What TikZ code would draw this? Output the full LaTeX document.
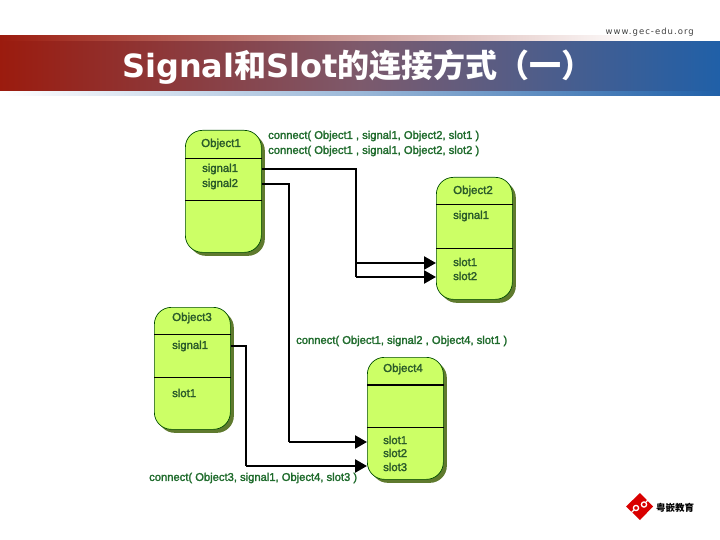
\documentclass[tikz,border=0pt]{standalone}
\usepackage{fontspec}
\setmainfont{Liberation Sans}
\newfontfamily\cjk{Noto Sans CJK SC}
\newfontfamily\titlefont{DejaVu Sans}
\newfontfamily\labelfont[FakeBold=2]{Liberation Sans}
\usetikzlibrary{arrows.meta,calc}
\definecolor{brandred}{HTML}{9B1B0E}
\definecolor{brandblue}{HTML}{2060A8}
\definecolor{bandmid}{HTML}{7D5A6C}
\definecolor{boxgreen}{HTML}{CCFF66}
\definecolor{shadowgreen}{HTML}{5F7A2E}
\definecolor{labelgreen}{HTML}{1F6B2C}
\definecolor{textgreen}{HTML}{2A5A2A}
\tikzset{
  objbox/.style={draw=black!70!green,line width=0.7pt,fill=boxgreen,rounded corners=17pt,
    minimum width=76pt,minimum height=122pt,inner sep=0pt,anchor=north west,
    preaction={fill=shadowgreen,draw=none,transform canvas={shift={(3.5pt,-3.5pt)}}}},
  objname/.style={font=\labelfont\fontsize{11.5}{12}\selectfont,text=textgreen,anchor=center,inner sep=0pt},
  member/.style={font=\labelfont\fontsize{11.3}{12}\selectfont,text=textgreen,anchor=west,inner sep=0pt},
  conn/.style={font=\labelfont\fontsize{11.2}{12}\selectfont,text=labelgreen,anchor=west,inner sep=0pt},
  divider/.style={line width=0.7pt,black},
  wire/.style={line width=2.4pt,black,-{Triangle[length=12pt,width=13pt]}},
  wireline/.style={line width=2.4pt,black},
}
\begin{document}
\begin{tikzpicture}[x=1pt,y=-1pt]
\useasboundingbox (0,0) rectangle (720,540);
% banner
\shade[left color=brandred,right color=white,middle color=brandred!45!white!90!gray] (0,36) rectangle (640,43);
\shade[left color=white,right color=brandblue,middle color=brandblue!45!white] (0,90) rectangle (720,96);
\shade[left color=brandred,right color=brandblue,middle color=bandmid] (0,42) rectangle (720,91);
\node[inner sep=0pt,text=white] (title) at (358,67) {\fontsize{32}{36}\selectfont\bfseries\titlefont Signal{\cjk 和}Slot{\cjk 的连接方式（一）}};
\node[inner sep=0pt,anchor=east,text=black!75] (site) at (694,32) {\fontsize{8.5}{10}\selectfont\titlefont\addfontfeature{LetterSpace=12}www.gec-edu.org};
% objects
\node[objbox] (o1) at (185,130) {};
\node[objbox] (o2) at (436,177) {};
\node[objbox] (o3) at (154,307) {};
\node[objbox] (o4) at (367,357) {};
% dividers
\draw[divider] (o1.west |- 0,158) -- (o1.east |- 0,158);
\draw[divider] (o1.west |- 0,200) -- (o1.east |- 0,200);
\draw[divider] (o2.west |- 0,204) -- (o2.east |- 0,204);
\draw[divider] (o2.west |- 0,248) -- (o2.east |- 0,248);
\draw[divider] (o3.west |- 0,334) -- (o3.east |- 0,334);
\draw[divider] (o3.west |- 0,377) -- (o3.east |- 0,377);
\draw[divider,line width=1.3pt] (o4.west |- 0,385) -- (o4.east |- 0,385);
\draw[divider] (o4.west |- 0,427) -- (o4.east |- 0,427);
% names
\node[objname] (n1) at (221,144) {Object1};
\node[objname] (n2) at (473,191) {Object2};
\node[objname] (n3) at (192,318) {Object3};
\node[objname] (n4) at (403,369) {Object4};
% members
\node[member] (o1sig1) at (202,169) {signal1};
\node[member] (o1sig2) at (202,184) {signal2};
\node[member] (o2sig1) at (453,216) {signal1};
\node[member] (o2slot1) at (453,262) {slot1};
\node[member] (o2slot2) at (453,276) {slot2};
\node[member] (o3sig1) at (172,346) {signal1};
\node[member] (o3slot1) at (172,393) {slot1};
\node[member] (o4slot1) at (383,440) {slot1};
\node[member] (o4slot2) at (383,453) {slot2};
\node[member] (o4slot3) at (383,467) {slot3};
% connect labels
\node[conn] (c1) at (268,136) {connect( Object1 , signal1, Object2, slot1 )};
\node[conn] (c2) at (268,151) {connect( Object1 , signal1, Object2, slot2 )};
\node[conn] (c3) at (296,341) {connect( Object1, signal2 , Object4, slot1 )};
\node[conn] (c4) at (149,478) {connect( Object3, signal1, Object4, slot3 )};
% connectors
\coordinate (j1) at (356,263);
\draw[wireline] (o1.east |- 0,169) -| (j1);
\draw[wire] (j1) -- (o2.west |- j1);
\coordinate (j2) at (356,277);
\draw[wireline] (j1) -- (j2);
\draw[wire] (j2) -- (o2.west |- j2);
\coordinate (j3) at (289,442);
\draw[wireline] (o1.east |- 0,184) -| (j3);
\draw[wire] (j3) -- (o4.west |- j3);
\coordinate (j4) at (246,466);
\draw[wireline] (o3.east |- 0,346) -| (j4);
\draw[wire] (j4) -- (o4.west |- j4);
% logo
\fill[red!85!black] (640,493) -- (653,506.5) -- (640,520) -- (626,506.5) -- cycle;
\draw[white,line width=1.3pt] (636,508) circle (2.6) (644,504.5) circle (2.6);
\draw[white,line width=1.1pt] (634,510) -- (631,513) (646,502) -- (649,499);
\node[inner sep=0pt,anchor=west] (brand) at (656,508) {\fontsize{9.5}{10}\selectfont\bfseries\cjk 粤嵌教育};
\end{tikzpicture}
\end{document}
